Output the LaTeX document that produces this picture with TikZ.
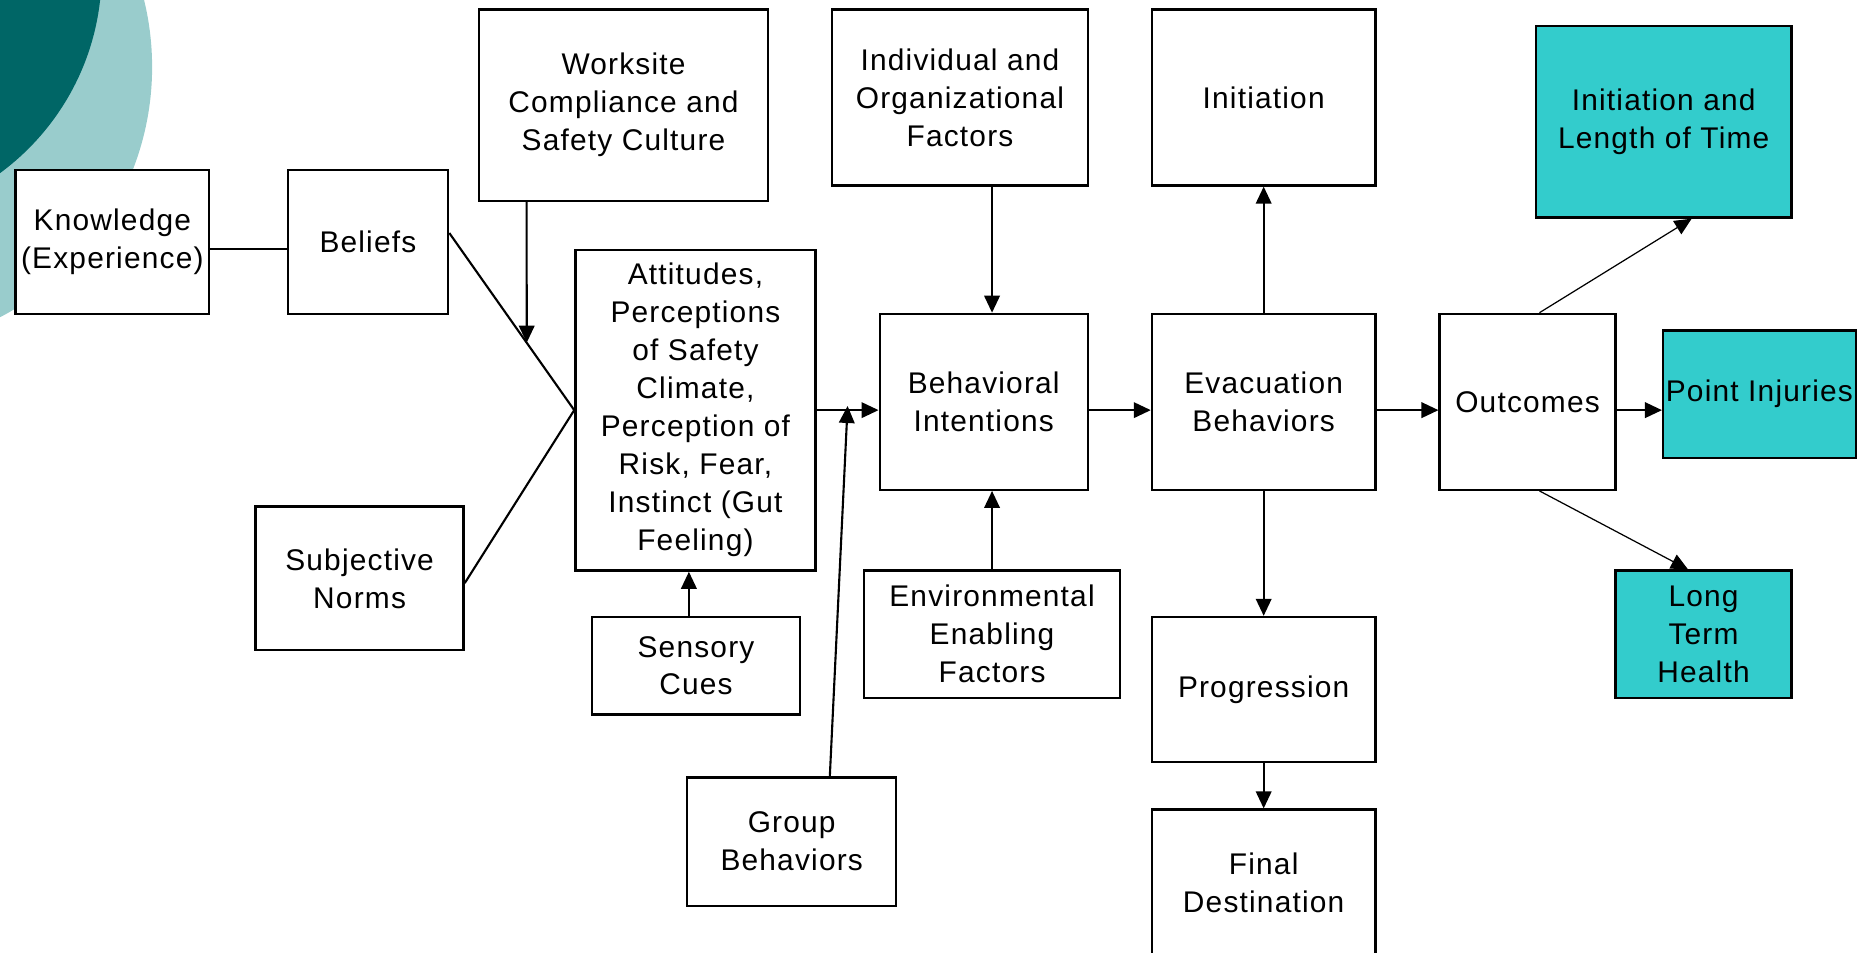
\documentclass[tikz,border=0pt]{standalone}
\usepackage{fontspec}
\setmainfont{Liberation Sans}[LetterSpace=4]
\usetikzlibrary{arrows.meta,calc}
\definecolor{darkteal}{HTML}{006666}
\definecolor{lightteal}{HTML}{99CCCC}
\definecolor{boxteal}{HTML}{33CCCC}
\begin{document}
\begin{tikzpicture}[x=0.023776cm,y=-0.023776cm,
  bx/.style 2 args={draw, line width=1.3pt, fill=white, rectangle,
    minimum width=#1*0.023776cm, minimum height=#2*0.023776cm,
    inner sep=0pt, align=center, font=\fontsize{17}{21.6}\selectfont},
  tl/.style={fill=boxteal},
  ln/.style={line width=1.2pt},
  ar/.style={ln, -{Triangle[length=0.34cm,width=0.31cm]}},
  thinar/.style={line width=0.7pt, -{Triangle[length=0.34cm,width=0.31cm]}}]
\useasboundingbox (0,0) rectangle (1568,801);
\clip (0,0) rectangle (1568,801);
% background circles
\fill[lightteal] (-109,56.4) circle (5.633cm);
\fill[darkteal] (-124.3,-23.4) circle (4.988cm);
% nodes
\node[bx={163}{121}] (know) at (94.5,203.5) {Knowledge\\(Experience)};
\node[bx={135}{121}] (bel) at (309.5,203.5) {Beliefs};
\node[bx={243}{161}] (work) at (524.5,88.5) {Worksite\\Compliance and\\Safety Culture};
\node[bx={202}{270}] (att) at (585,345) {Attitudes,\\Perceptions\\of Safety\\Climate,\\Perception of\\Risk, Fear,\\Instinct (Gut\\Feeling)};
\node[bx={175}{121}] (subj) at (302.5,486.5) {Subjective\\Norms};
\node[bx={175}{82}] (sens) at (585.5,560) {Sensory\\Cues};
\node[bx={176}{108}] (grp) at (666,708) {Group\\Behaviors};
\node[bx={215}{148}] (ind) at (807.5,82) {Individual and\\Organizational\\Factors};
\node[bx={175}{148}] (bi) at (827.5,338) {Behavioral\\Intentions};
\node[bx={215}{107}] (env) at (834.5,533.5) {Environmental\\Enabling\\Factors};
\node[bx={188}{148}] (ini) at (1063,82) {Initiation};
\node[bx={188}{148}] (evac) at (1063,338) {Evacuation\\Behaviors};
\node[bx={188}{122}] (prog) at (1063,580) {Progression};
\node[bx={188}{124}] (fin) at (1063,743) {Final\\Destination};
\node[bx={148}{148}] (out) at (1285,338) {Outcomes};
\node[bx={215}{161},tl] (ilt) at (1399.5,102.5) {Initiation and\\Length of Time};
\node[bx={162}{107},tl] (pi) at (1480,331.5) {Point Injuries};
\node[bx={148}{107},tl] (lth) at (1433,533.5) {Long\\Term\\Health};
% helper coordinates
\coordinate (b1) at ($(bel.east)+(0,-7.5)$);
\coordinate (s1) at ($(subj.east)+(0,4)$);
\coordinate (ws) at ($(work.south west)+(41,0)$);
\coordinate (ws2) at ($(ws)+(0,200)$);
\coordinate (wk) at (intersection cs: first line={(ws)--(ws2)}, second line={(b1)--(att.west)});
\coordinate (gs) at ($(grp.north west)+(121,0)$);
\coordinate (gt) at ($(att.east)!0.5!(bi.west)$);
\coordinate (sc) at ($(sens.north)+(-6,0)$);
\coordinate (os1) at ($(out.north)+(10,0)$);
\coordinate (ot1) at ($(ilt.south)+(23.5,0)$);
\coordinate (os2) at ($(out.south)+(10,0)$);
\coordinate (ot2) at ($(lth.north)+(-13,0)$);
% connectors
\draw[ln] ($(know.east)+(0,6)$) -- ($(bel.west)+(0,6)$);
\draw[ln] (b1) -- (att.west);
\draw[ln] (s1) -- (att.west);
\draw[ar] (ws) -- (wk);
\draw[ar] (att.east) -- (bi.west |- att.east);
\draw[ar] (gs) -- (gt);
\draw[ar] (sc) -- (att.south -| sc);
\draw[ar] (ind.south -| env.north) -- (bi.north -| env.north);
\draw[ar] (env.north) -- (bi.south -| env.north);
\draw[ar] (bi.east |- att.east) -- (evac.west |- att.east);
\draw[ar] (evac.north) -- (ini.south);
\draw[ar] (evac.south) -- (prog.north);
\draw[ar] (prog.south) -- (fin.north);
\draw[ar] (evac.east |- att.east) -- (out.west |- att.east);
\draw[ar] (out.east |- att.east) -- (pi.west |- att.east);
\draw[thinar] (os1) -- (ot1);
\draw[thinar] (os2) -- (ot2);
\end{tikzpicture}
\end{document}
